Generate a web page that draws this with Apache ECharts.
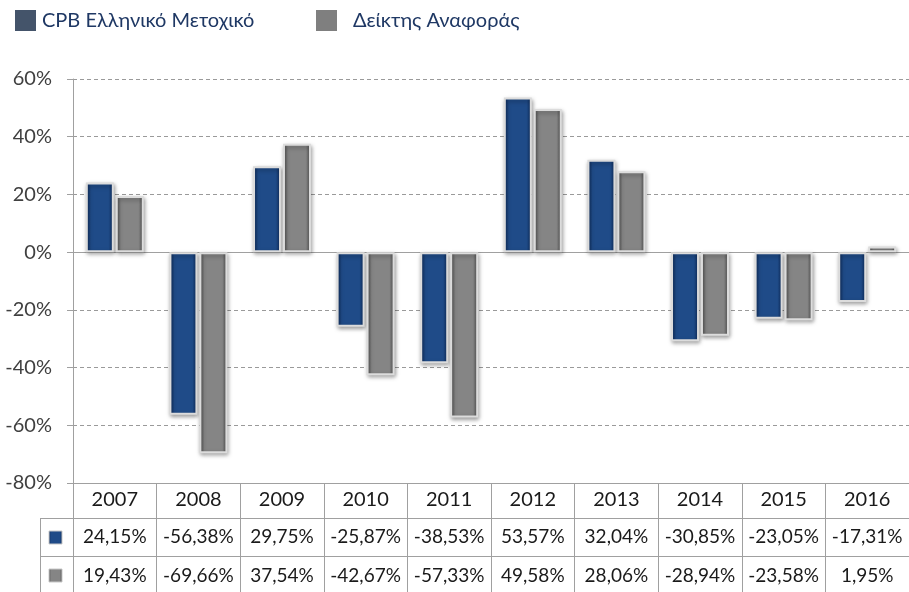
<!DOCTYPE html>
<html>
<head>
<meta charset="utf-8">
<script src="https://cdn.jsdelivr.net/npm/echarts@6/dist/echarts.min.js"></script>
<style>
    html, body { margin: 0; padding: 0; background: #fff; }
    #main { width: 909px; height: 592px; }
</style>
</head>
<body>
<div id="main"></div>
<script>
    // data
    var years = ['2007', '2008', '2009', '2010', '2011', '2012', '2013', '2014', '2015', '2016'];
    var cpbValues = [24.15, -56.38, 29.75, -25.87, -38.53, 53.57, 32.04, -30.85, -23.05, -17.31];
    var indexValues = [19.43, -69.66, 37.54, -42.67, -57.33, 49.58, 28.06, -28.94, -23.58, 1.95];
    var seriesNames = ['CPB Ελληνικό Μετοχικό', 'Δείκτης Αναφοράς'];

    var FONT = 'Lato';
    var gridCol = '#a0a0a0';

    function pct(v) {
        return v.toFixed(2).replace('.', ',') + '%';
    }

    function grad(edge, mid) {
        return new echarts.graphic.LinearGradient(0, 0, 1, 0, [
            {offset: 0, color: edge},
            {offset: 0.18, color: mid},
            {offset: 0.82, color: mid},
            {offset: 1, color: edge}
        ]);
    }

    var blueFill = grad('#0b2755', '#1f4b88');
    var grayFill = grad('#4a4a4a', '#858585');

    var chart = echarts.init(document.getElementById('main'));

    // table row axes: labels come from the data arrays
    function rowAxis(values, offset, margin) {
        return {
            type: 'category',
            data: values.map(pct),
            position: 'bottom',
            offset: offset,
            axisLine: {show: true, onZero: false, lineStyle: {color: gridCol, width: 1}},
            axisTick: {show: false},
            axisLabel: {fontFamily: FONT, fontSize: 19, color: '#1a1a1a', margin: margin, interval: 0}
        };
    }

    var legendText = {fontFamily: FONT, fontSize: 20, color: '#1f3864'};

    var option = {
        animation: false,
        legend: [
            {
                left: 10, top: 5, itemWidth: 21, itemHeight: 21, icon: 'rect',
                data: [{name: seriesNames[0], itemStyle: {color: '#44546a', borderWidth: 0, shadowBlur: 0}}],
                textStyle: Object.assign({padding: [0, 0, 0, 1]}, legendText)
            },
            {
                left: 311, top: 5, itemWidth: 21, itemHeight: 21, icon: 'rect',
                data: [{name: seriesNames[1], itemStyle: {color: '#7f7f7f', borderWidth: 0, shadowBlur: 0}}],
                textStyle: Object.assign({padding: [0, 0, 0, 11]}, legendText)
            }
        ],
        grid: {left: 73, right: -4, top: 79, bottom: 109, containLabel: false},
        xAxis: [
            {
                type: 'category',
                data: years,
                position: 'bottom',
                axisLine: {show: true, onZero: false, lineStyle: {color: gridCol}},
                axisTick: {show: true, inside: false, length: 109, lineStyle: {color: gridCol}},
                axisLabel: {fontFamily: FONT, fontSize: 20, color: '#1a1a1a', margin: 7, interval: 0}
            },
            rowAxis(cpbValues, 35, 9),
            rowAxis(indexValues, 73, 10),
            {
                // zero line
                type: 'category',
                data: years,
                axisLine: {show: true, onZero: true, lineStyle: {color: gridCol}},
                axisTick: {show: false},
                axisLabel: {show: false}
            }
        ],
        yAxis: {
            type: 'value',
            min: -80,
            max: 60,
            interval: 20,
            axisLine: {show: true, lineStyle: {color: gridCol}},
            axisTick: {show: true, length: 6, lineStyle: {color: gridCol}},
            axisLabel: {formatter: '{value}%', fontFamily: FONT, fontSize: 20, color: '#404040', margin: 21},
            splitLine: {show: true, lineStyle: {color: '#9a9a9a', type: [4, 3]}}
        },
        series: [
            {
                name: seriesNames[0],
                type: 'bar',
                data: cpbValues,
                barWidth: 28,
                barGap: '7%',
                itemStyle: {
                    color: blueFill,
                    borderColor: '#dcdcdc',
                    borderWidth: 2,
                    shadowBlur: 4,
                    shadowColor: 'rgba(0,0,0,0.35)',
                    shadowOffsetX: 1,
                    shadowOffsetY: 2
                }
            },
            {
                name: seriesNames[1],
                type: 'bar',
                data: indexValues,
                barWidth: 28,
                itemStyle: {
                    color: grayFill,
                    borderColor: '#dcdcdc',
                    borderWidth: 2,
                    shadowBlur: 4,
                    shadowColor: 'rgba(0,0,0,0.35)',
                    shadowOffsetX: 1,
                    shadowOffsetY: 2
                }
            }
        ],
        graphic: [
            // left key column of the data table
            {type: 'line', shape: {x1: 40, y1: 518.5, x2: 73, y2: 518.5}, style: {stroke: gridCol, lineWidth: 1}},
            {type: 'line', shape: {x1: 40, y1: 556.5, x2: 73, y2: 556.5}, style: {stroke: gridCol, lineWidth: 1}},
            {type: 'line', shape: {x1: 40.5, y1: 518, x2: 40.5, y2: 592}, style: {stroke: gridCol, lineWidth: 1}},
            {type: 'line', shape: {x1: 73.5, y1: 483, x2: 73.5, y2: 592}, style: {stroke: gridCol, lineWidth: 1}},
            {type: 'rect', shape: {x: 49, y: 531, width: 13, height: 13}, style: {fill: blueFill, stroke: '#c8c8c8', lineWidth: 1}},
            {type: 'rect', shape: {x: 49, y: 569, width: 13, height: 13}, style: {fill: grayFill, stroke: '#c8c8c8', lineWidth: 1}}
        ]
    };

    chart.setOption(option);
</script>
</body>
</html>
